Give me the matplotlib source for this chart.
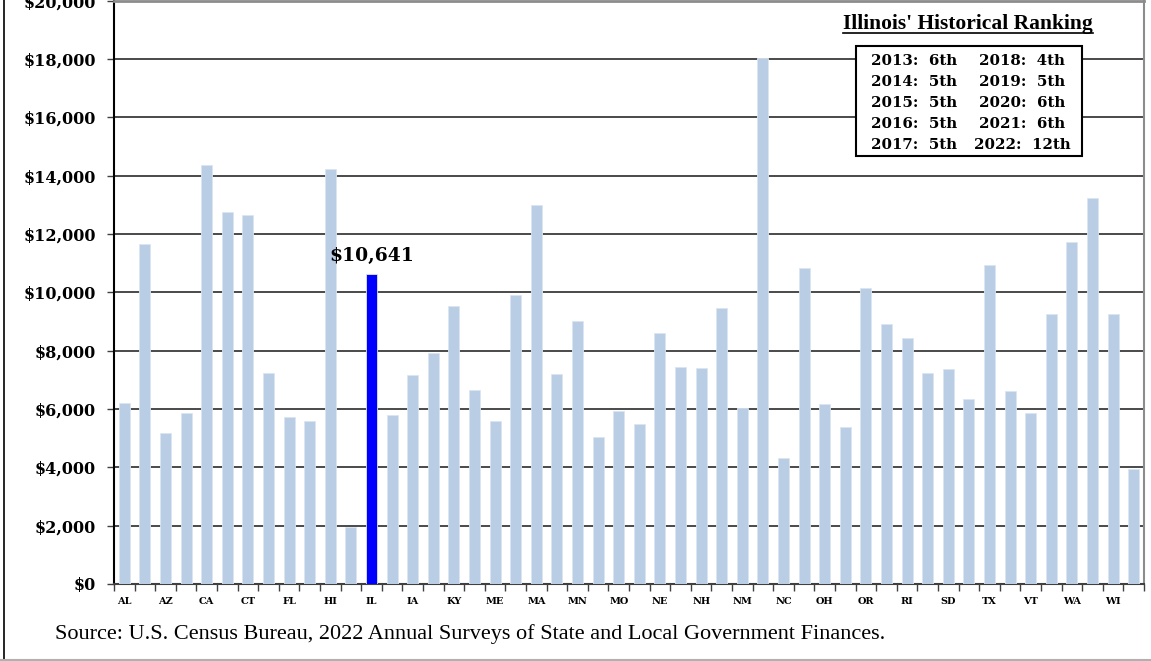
import matplotlib
matplotlib.use('Agg')
import matplotlib.pyplot as plt
from matplotlib.patches import Rectangle
from matplotlib.lines import Line2D
from matplotlib.ticker import FuncFormatter, FixedLocator
import numpy as np

# Per-capita state & local spending, 2022 (alphabetical by state)
states = ['AL', 'AK', 'AZ', 'AR', 'CA', 'CO', 'CT', 'DE', 'FL', 'GA',
          'HI', 'ID', 'IL', 'IN', 'IA', 'KS', 'KY', 'LA', 'ME', 'MD',
          'MA', 'MI', 'MN', 'MS', 'MO', 'MT', 'NE', 'NV', 'NH', 'NJ',
          'NM', 'NY', 'NC', 'ND', 'OH', 'OK', 'OR', 'PA', 'RI', 'SC',
          'SD', 'TN', 'TX', 'UT', 'VT', 'VA', 'WA', 'WV', 'WI', 'WY']
spending = [6217, 11640, 5190, 5850, 14350, 12750, 12640, 7230, 5740, 5600,
            14220, 1945, 10641, 5780, 7170, 7910, 9530, 6660, 5590, 9910,
            12990, 7190, 9030, 5040, 5930, 5470, 8600, 7430, 7420, 9460,
            6050, 18020, 4330, 10850, 6170, 5390, 10140, 8900, 8430, 7230,
            7360, 6330, 10930, 6610, 5850, 9270, 11710, 13230, 9270, 3945]
highlight = 'IL'
highlight_label = '$10,641'

rank_title = "Illinois' Historical Ranking"
rank_left = ['2013:  6th', '2014:  5th', '2015:  5th', '2016:  5th', '2017:  5th']
rank_right = ['2018:  4th', '2019:  5th', '2020:  6th', '2021:  6th', '2022:  12th']

source = 'Source: U.S. Census Bureau, 2022 Annual Surveys of State and Local Government Finances.'

W, H = 1151, 661
fig = plt.figure(figsize=(W / 100, H / 100), dpi=100)
fig.patch.set_facecolor('white')
ax = fig.add_axes([114 / W, 1 - 584 / H, (1144 - 114) / W, 584 / H - 0.001])

serif = 'Liberation Serif'
heavy = 'DejaVu Serif'
x = np.arange(len(states))
colors = ['#0000FF' if s == highlight else '#B9CDE5' for s in states]
ax.bar(x, spending, width=0.54, color=colors, edgecolor='#dce6f2',
       linewidth=0.6, zorder=3)

ax.set_xlim(-0.5, len(states) - 0.5)
ax.set_ylim(0, 20000)
ax.set_yticks(np.arange(0, 20001, 2000))
ax.yaxis.set_major_formatter(FuncFormatter(lambda v, p: f'${v:,.0f}'))
ax.grid(axis='y', color='#3c3c3c', linewidth=1.3, zorder=1)
ax.set_axisbelow(True)

# labels on every other state, tick marks between categories
ax.xaxis.set_major_locator(FixedLocator(x[::2]))
ax.set_xticklabels(states[::2])
ax.xaxis.set_minor_locator(FixedLocator(np.arange(-0.5, len(states), 1.0)))
ax.tick_params(axis='x', which='major', length=0, pad=9)
ax.tick_params(axis='x', which='minor', length=5, width=1, color='#404040', direction='out')
ax.tick_params(axis='y', length=5, width=1, color='#404040', direction='out', pad=8)
for lab in ax.get_xticklabels():
    lab.set_fontfamily(heavy)
    lab.set_fontweight('bold')
    lab.set_fontsize(7)
for lab in ax.get_yticklabels():
    lab.set_fontfamily(heavy)
    lab.set_fontweight('bold')
    lab.set_fontsize(11.5)

ax.spines['left'].set_color('black')
ax.spines['left'].set_linewidth(1.5)
ax.spines['bottom'].set_color('#404040')
ax.spines['bottom'].set_linewidth(1.5)
ax.spines['right'].set_color('#8c8c8c')
ax.spines['right'].set_linewidth(1.5)
ax.spines['top'].set_color('#8c8c8c')
ax.spines['top'].set_linewidth(2)

i = states.index(highlight)
ax.annotate(highlight_label, xy=(i, spending[i]), xytext=(0, 6),
            textcoords='offset points', ha='center', va='bottom',
            fontsize=13.5, fontweight='bold', fontfamily=heavy, zorder=5)

# ranking box
t = fig.text(968 / W, 1 - 24 / H, rank_title, ha='center', va='center',
             fontsize=15.5, fontweight='bold', fontfamily=serif, zorder=6)
fig.canvas.draw()
bb = t.get_window_extent()
fig.add_artist(Line2D([bb.x0 / W, bb.x1 / W], [1 - 33 / H, 1 - 33 / H],
                      color='black', linewidth=1.2, zorder=6))
fig.add_artist(Rectangle((856 / W, 1 - 156 / H), 226 / W, 110 / H,
                         facecolor='white', edgecolor='black', linewidth=1.5,
                         zorder=5))
row_y = [61, 82, 103, 124, 145]
for yy, left, right in zip(row_y, rank_left, rank_right):
    fig.text(914 / W, 1 - yy / H, left, ha='center', va='center',
             fontsize=10.8, fontweight='bold', fontfamily=heavy, zorder=6)
    fig.text(1022 / W, 1 - yy / H, right, ha='center', va='center',
             fontsize=10.8, fontweight='bold', fontfamily=heavy, zorder=6)

fig.text(55 / W, 1 - 634 / H, source, ha='left', va='center',
         fontsize=16, fontfamily=serif)

# outer chart border
fig.add_artist(Line2D([3.5 / W, 3.5 / W], [0, 1], color='black', linewidth=1.2))
fig.add_artist(Line2D([0, 1], [1.5 / H, 1.5 / H], color='#b0b0b0', linewidth=1.5))

fig.savefig('out.png', dpi=100, facecolor='white')
